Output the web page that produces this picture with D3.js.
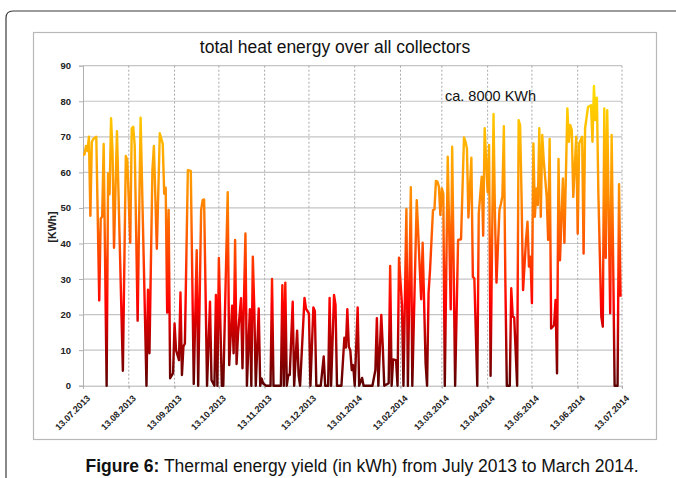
<!DOCTYPE html>
<html>
    <head>
        <meta charset="utf-8">
        <style>
            body { margin: 0; background: #fff; }
            text { font-family: "Liberation Sans", Arial, sans-serif; }
            .grid line { stroke: #c4c4c4; stroke-width: 1.2px; }
            .vgrid line { stroke: #a8a8a8; stroke-width: 1px; stroke-dasharray: 2,2; }
            .axis path, .axis line { stroke: #b0b0b0; }
            .axis text { font-weight: bold; font-size: 9.5px; fill: #222; }
        </style>
        <script src="https://d3js.org/d3.v7.min.js"></script>
    </head>
    <body>
        <svg width="676" height="478"></svg>
        <script>
            // month ticks (labels as in the chart)
            var tickLabels = ["13.07.2013", "13.08.2013", "13.09.2013", "13.10.2013", "13.11.2013", "13.12.2013",
                "13.01.2014", "13.02.2014", "13.03.2014", "13.04.2014", "13.05.2014", "13.06.2014", "13.07.2014"];
            var yTicks = [0, 10, 20, 30, 40, 50, 60, 70, 80, 90];

            // days after 13.07.2013
            var dayOffsets = [
                0, 1, 2, 3, 4, 5, 6, 7, 9, 11, 12, 13, 14, 16, 17, 18, 19, 20, 21, 23,
                27, 29, 30, 32, 33, 34, 35, 37, 39, 43, 44, 45, 47, 48, 50, 52, 54, 55, 56, 57,
                58, 59, 61, 62, 63, 65, 66, 67, 68, 69, 71, 73, 75, 77, 78, 80, 81, 82, 84, 86,
                87, 89, 90, 91, 92, 94, 95, 98, 99, 101, 102, 103, 104, 105, 107, 108, 110, 111, 112, 113,
                114, 115, 116, 117, 119, 120, 121, 122, 124, 127, 128, 129, 134, 135, 136, 137, 138, 139, 140, 142,
                143, 145, 146, 147, 150, 151, 153, 154, 156, 157, 158, 161, 163, 164, 166, 167, 168, 170, 171, 172,
                175, 177, 178, 179, 180, 181, 182, 183, 184, 186, 187, 189, 190, 196, 198, 199, 200, 202, 203, 204,
                207, 208, 209, 210, 212, 213, 214, 216, 217, 219, 220, 222, 223, 226, 228, 229, 230, 232, 233, 234,
                235, 237, 238, 239, 240, 241, 242, 243, 244, 245, 247, 249, 250, 252, 254, 256, 258, 259, 260, 261,
                263, 264, 265, 267, 268, 270, 271, 272, 274, 275, 276, 278, 279, 280, 282, 283, 284, 285, 286, 287,
                289, 290, 291, 292, 294, 295, 296, 297, 298, 300, 301, 302, 303, 304, 305, 306, 307, 308, 309, 310,
                311, 312, 314, 315, 316, 317, 319, 320, 321, 322, 323, 325, 326, 328, 329, 330, 331, 332, 334, 335,
                336, 338, 339, 340, 342, 344, 345, 346, 347, 348, 349, 351, 352, 353, 354, 355, 357, 358, 360, 362,
                363, 364
            ];
            // daily heat energy [kWh]
            var kwh = [
                65, 65, 67.4, 66, 70, 47.8, 68.6, 69.4, 70, 24, 47, 47.5, 68, 0, 59.7, 53.8, 75.2, 66, 38.8, 71.6,
                4.2, 64.6, 63.4, 40.2, 72.4, 72.8, 67.7, 18.3, 75.4, 0, 27, 9.1, 60.6, 67.4, 38.5, 71, 68, 54, 55.7, 20.6,
                49.4, 2.1, 3.5, 17.5, 10, 7.2, 26.2, 3, 11, 11.9, 60.6, 60.4, 0.5, 38.1, 0, 49.4, 52.2, 52.4, 0, 23.6,
                1.6, 0, 25.5, 0, 35.9, 0, 0, 54.4, 5.8, 22.5, 9.1, 41, 6.1, 14.7, 24.6, 4.9, 42.8, 0, 11, 21.5,
                0, 36.3, 21.5, 0, 21.7, 0, 2, 0.6, 0, 0, 30, 0, 0, 28.3, 0, 29, 0, 3, 3, 23.6,
                0, 15.5, 3, 0, 24.7, 21.7, 20.3, 0, 22, 21, 0, 0, 8.2, 0, 0, 24.7, 0, 25.5, 22.7, 0,
                0, 13.5, 10.7, 21.5, 11, 10, 4.4, 5.8, 0, 22, 0, 2.2, 0, 0, 4.4, 19, 0, 19.9, 11, 0,
                0.7, 33.7, 0, 7.4, 7.2, 0, 36, 22.7, 0, 49.7, 0, 55.8, 0, 52.2, 33.5, 24.3, 40.2, 6.3, 0, 26,
                32.5, 49.4, 49.6, 57.6, 57.4, 56, 48, 55.5, 54, 0, 64.4, 21.5, 67.2, 0, 41, 41.2, 69.8, 68.7, 66.7, 47.3,
                64.1, 30.6, 30.2, 0, 48.5, 58.8, 42.2, 72.4, 54.4, 67.7, 2.8, 76.4, 47, 29, 49.4, 51.1, 53.3, 73, 29.7, 0,
                0, 27.4, 19.4, 19.2, 0, 74.7, 73.3, 52.7, 26.9, 41, 46.1, 33.5, 36.3, 23.2, 68.1, 47.5, 55.5, 50.8, 72.4, 47.5,
                70.5, 63.4, 53.1, 41, 69.4, 16.1, 17, 24.1, 3.5, 63.8, 35.3, 58.3, 40.2, 78, 68.6, 73.3, 71.9, 53.1, 70, 42.8,
                68.1, 70, 37.2, 72.4, 78.4, 78.9, 68.6, 84.3, 74.7, 81, 54, 19.4, 16.6, 78, 36, 77.5, 20.4, 70.5, 0, 0,
                56.7, 25
            ];

            var svg = d3.select("svg");
            var parse = d3.utcParse("%d.%m.%Y");
            var tickDates = tickLabels.map(parse);
            var start = tickDates[0];

            var data = dayOffsets.map(function(d, i) {
                return { date: d3.utcDay.offset(start, d), value: kwh[i] };
            });

            // outer frame with rounded corner
            svg.append("path")
                .attr("d", "M6,478 V18 Q6,11 13,11 H676")
                .attr("fill", "none").attr("stroke", "#3a3a3a").attr("stroke-width", 1.2);

            // chart box
            svg.append("rect")
                .attr("x", 33.5).attr("y", 32.5).attr("width", 623).attr("height", 407)
                .attr("fill", "#fff").attr("stroke", "#b8b8b8").attr("stroke-width", 1.2);

            var x = d3.scaleUtc().domain([tickDates[0], tickDates[tickDates.length - 1]]).range([83, 622]);
            var y = d3.scaleLinear().domain([0, 90]).range([385.7, 65.7]);

            // horizontal grid
            svg.append("g").attr("class", "grid").selectAll("line").data(yTicks.slice(1)).enter().append("line")
                .attr("x1", x.range()[0]).attr("x2", x.range()[1])
                .attr("y1", function(d) { return y(d); }).attr("y2", function(d) { return y(d); });

            // vertical dashed grid at month ticks
            svg.append("g").attr("class", "vgrid").selectAll("line").data(tickDates.slice(1)).enter().append("line")
                .attr("x1", function(d) { return x(d); }).attr("x2", function(d) { return x(d); })
                .attr("y1", y(90)).attr("y2", y(0) + 3);

            svg.append("g").attr("class", "axis")
                .attr("transform", "translate(" + x.range()[0] + ",0)")
                .call(d3.axisLeft(y).tickValues(yTicks).tickSize(4).tickPadding(8));

            var xAxis = svg.append("g").attr("class", "axis")
                .attr("transform", "translate(0," + y(0) + ")")
                .call(d3.axisBottom(x).tickValues(tickDates).tickSize(3).tickFormat(d3.utcFormat("%d.%m.%Y")));
            xAxis.selectAll("text")
                .attr("text-anchor", "end")
                .attr("dx", 0).attr("dy", 0)
                .attr("transform", "translate(3,9) rotate(-45)")
                .style("font-size", "9px");

            // colour by value: dark red at 0, up to yellow at the top
            var grad = svg.append("defs").append("linearGradient")
                .attr("id", "heat").attr("gradientUnits", "userSpaceOnUse")
                .attr("x1", 0).attr("x2", 0).attr("y1", y(0)).attr("y2", y(85));
            var stops = [[0, "#5c0000"], [0.12, "#a00000"], [0.27, "#ff0000"], [0.47, "#ff5200"],
                [0.62, "#ff8a00"], [0.8, "#ffb400"], [1, "#ffe000"]];
            grad.selectAll("stop").data(stops).enter().append("stop")
                .attr("offset", function(d) { return d[0]; })
                .attr("stop-color", function(d) { return d[1]; });

            var line = d3.line()
                .x(function(d) { return x(d.date); })
                .y(function(d) { return y(d.value); });

            svg.append("path").datum(data)
                .attr("d", line)
                .attr("fill", "none")
                .attr("stroke", "url(#heat)")
                .attr("stroke-width", 2.4)
                .attr("stroke-linejoin", "round");

            // texts
            svg.append("text").attr("x", 335).attr("y", 53).attr("text-anchor", "middle")
                .style("font-size", "17.5px").attr("fill", "#111")
                .text("total heat energy over all collectors");

            svg.append("text").attr("x", 445).attr("y", 101)
                .style("font-size", "14.5px").attr("fill", "#111")
                .text("ca. 8000 KWh");

            svg.append("text").attr("transform", "translate(56,227) rotate(-90)")
                .attr("text-anchor", "middle").style("font-size", "10.5px").style("font-weight", "bold")
                .attr("fill", "#222").text("[KWh]");

            var cap = svg.append("text").attr("x", 362).attr("y", 472).attr("text-anchor", "middle")
                .style("font-size", "17.5px").attr("fill", "#111");
            cap.append("tspan").style("font-weight", "bold").text("Figure 6:");
            cap.append("tspan").text(" Thermal energy yield (in kWh) from July 2013 to March 2014.");
        </script>
    </body>
</html>
